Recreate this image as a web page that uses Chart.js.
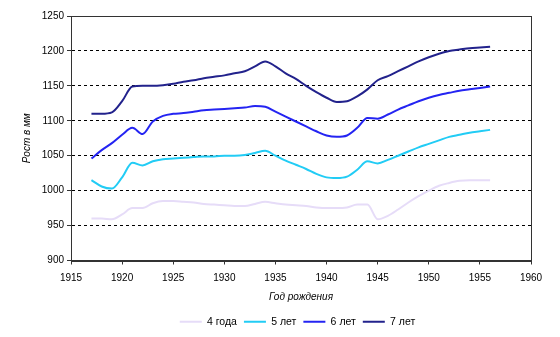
<!DOCTYPE html>
<html>
<head>
<meta charset="utf-8">
<script src="https://cdn.jsdelivr.net/npm/chart.js@4"></script>
<style>
  html, body { margin: 0; padding: 0; background: #fff; }
  #wrap { width: 560px; height: 337px; }
</style>
</head>
<body>
<div id="wrap"><canvas id="myChart" width="560" height="337"></canvas></div>
<script>
const years = [1917, 1918, 1919, 1920, 1921, 1922, 1923, 1924, 1925, 1926,
    1927, 1928, 1929, 1930, 1931, 1932, 1933, 1934, 1935, 1936,
    1937, 1938, 1939, 1940, 1941, 1942, 1943, 1944, 1945, 1946,
    1947, 1948, 1949, 1950, 1951, 1952, 1953, 1954, 1955, 1956];

const age4 = [960, 960, 959, 966, 975, 975, 982, 985, 985, 984,
    983, 981, 980, 979, 978, 978, 981, 984, 982, 980,
    979, 978, 976, 975, 975, 976, 980, 980, 959, 964,
    973, 983, 992, 1000, 1007, 1011, 1014, 1015, 1015, 1015];

const age5 = [1015, 1006, 1003, 1019, 1040, 1036, 1042, 1045, 1046, 1047,
    1048, 1049, 1049, 1050, 1050, 1051, 1054, 1057, 1050, 1043,
    1037, 1031, 1024, 1019, 1018, 1020, 1030, 1042, 1039, 1044,
    1050, 1056, 1062, 1067, 1072, 1077, 1080, 1083, 1085, 1087];

const age6 = [1046, 1058, 1068, 1080, 1090, 1081, 1099, 1107, 1110, 1111,
    1113, 1115, 1116, 1117, 1118, 1119, 1121, 1120, 1113, 1106,
    1099, 1092, 1085, 1079, 1077, 1079, 1090, 1104, 1103, 1109,
    1116, 1122, 1128, 1133, 1137, 1140, 1143, 1145, 1147, 1149];

const age7 = [1110, 1110, 1112, 1128, 1149, 1150, 1150, 1151, 1153, 1156,
    1158, 1161, 1163, 1165, 1168, 1171, 1178, 1185, 1178, 1168,
    1160, 1150, 1141, 1133, 1127, 1128, 1135, 1145, 1158, 1164,
    1171, 1178, 1185, 1191, 1196, 1200, 1202, 1204, 1205, 1206];

const seriesNames = ["4 года", "5 лет", "6 лет", "7 лет"];

function points(values) {
    return years.map((y, i) => ({ x: y, y: values[i] }));
}

function line(label, values, color) {
    return {
        label: label,
        data: points(values),
        borderColor: color,
        backgroundColor: color,
        borderWidth: 2,
        pointRadius: 0,
        pointHoverRadius: 0,
        cubicInterpolationMode: "monotone",
        fill: false,
    };
}

// рамка вокруг области построения
const frame = {
    id: "frame",
    afterDatasetsDraw(chart) {
        const a = chart.chartArea;
        const c = chart.ctx;
        c.save();
        c.strokeStyle = "#333";
        c.lineWidth = 1;
        c.strokeRect(Math.round(a.left) + 0.5, Math.round(a.top) + 0.5,
            Math.round(a.right - a.left), Math.round(a.bottom - a.top));
        c.restore();
    }
};

// легенда чуть правее, как в оригинале
const legendShift = {
    id: "legendShift",
    afterLayout(chart) {
        const l = chart.legend;
        l.left += 32;
        l.right += 32;
    }
};

const ctx = document.getElementById("myChart").getContext("2d");

const myChart = new Chart(ctx, {
    type: "line",
    data: {
        datasets: [
            line(seriesNames[0], age4, "#E6DCF8"),
            line(seriesNames[1], age5, "#22CCF5"),
            line(seriesNames[2], age6, "#2424F2"),
            line(seriesNames[3], age7, "#22228C"),
        ],
    },
    options: {
        responsive: false,
        animation: false,
        layout: {
            padding: { left: 0, right: 29, top: 16, bottom: 0 },
        },
        scales: {
            x: {
                type: "linear",
                min: 1915,
                max: 1960,
                ticks: {
                    stepSize: 5,
                    color: "#000",
                    padding: 8,
                    maxRotation: 0,
                    font: { family: "Liberation Sans", size: 10 },
                    callback: (v) => String(v),
                },
                grid: {
                    drawOnChartArea: false,
                    drawTicks: true,
                    tickLength: 4,
                    tickColor: "#333",
                },
                border: { color: "#333", width: 1 },
                title: {
                    display: true,
                    text: "Год рождения",
                    color: "#000",
                    font: { family: "Liberation Sans", size: 10, style: "italic" },
                    padding: { top: 0, bottom: 6 },
                },
                afterFit(scale) { scale.height = 49; },
            },
            y: {
                min: 900,
                max: 1250,
                ticks: {
                    stepSize: 50,
                    color: "#000",
                    padding: 3,
                    font: { family: "Liberation Sans", size: 10 },
                    callback: (v) => String(v),
                },
                grid: {
                    color: "#000",
                    lineWidth: 1,
                    drawTicks: true,
                    tickLength: 4,
                    tickColor: "#333",
                },
                border: { color: "#333", width: 1, dash: [3, 3] },
                title: {
                    display: true,
                    text: "Рост в мм",
                    color: "#000",
                    font: { family: "Liberation Sans", size: 10, style: "italic" },
                    padding: { top: 21, bottom: 0 },
                },
                afterFit(scale) { scale.width = 71; },
            },
        },
        plugins: {
            legend: {
                position: "bottom",
                labels: {
                    usePointStyle: true,
                    pointStyle: "line",
                    pointStyleWidth: 22,
                    padding: 7,
                    color: "#000",
                    font: { family: "Liberation Sans", size: 10.5 },
                },
            },
            tooltip: { enabled: false },
        },
    },
    plugins: [frame, legendShift],
});
</script>
</body>
</html>
